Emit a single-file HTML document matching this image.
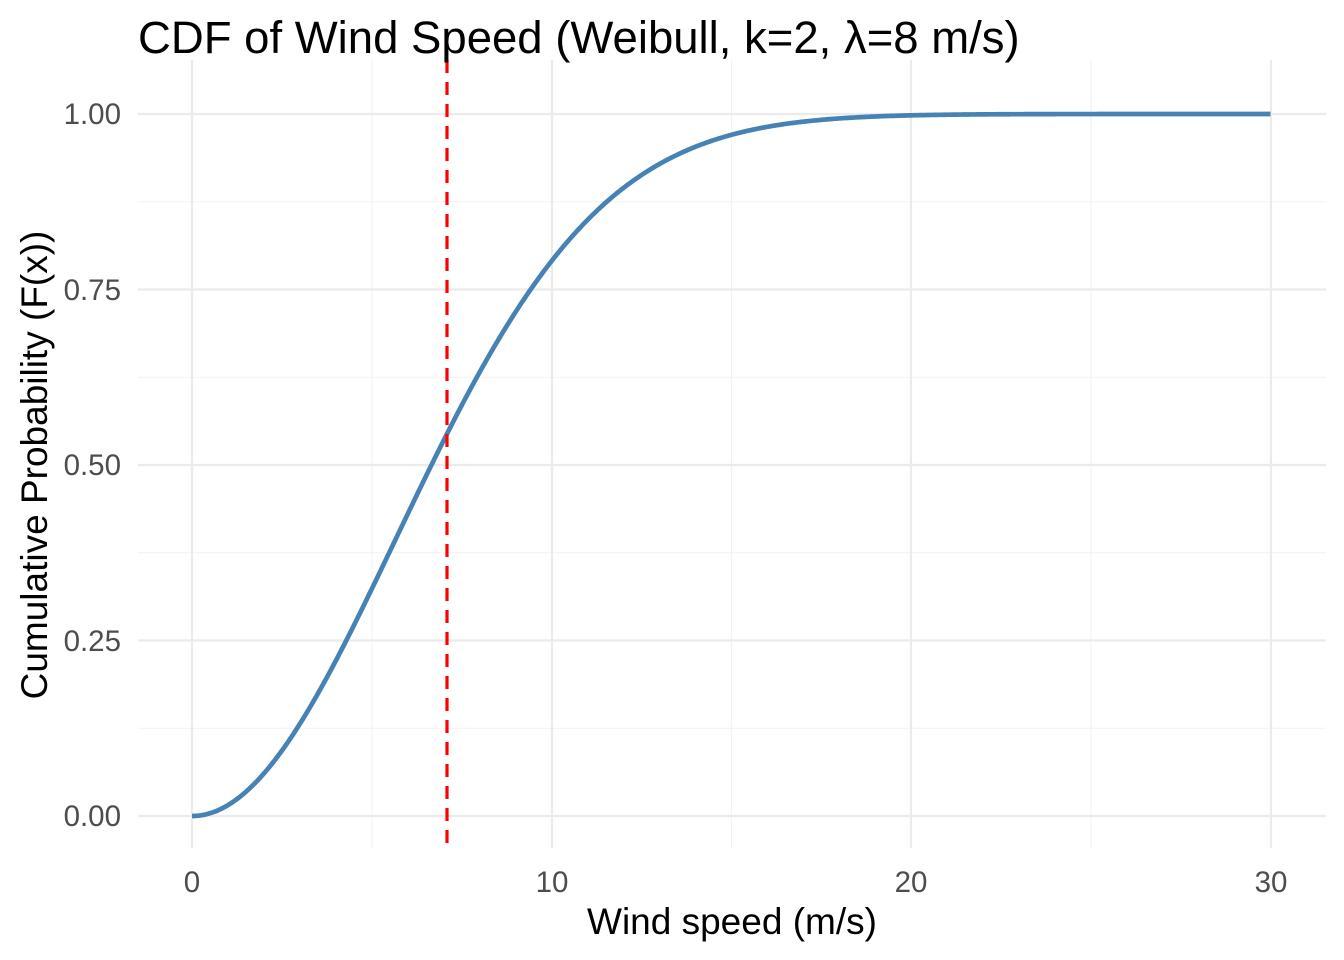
<!DOCTYPE html>
<html><head><meta charset="utf-8"><style>
body{margin:0;background:#fff;}
svg{display:block;font-family:"Liberation Sans",Arial,sans-serif;}
</style></head><body>
<svg id="s" width="1344" height="960" xmlns="http://www.w3.org/2000/svg">
<rect width="1344" height="960" fill="#fff"/>
<g stroke="#f2f2f2" stroke-width="1.1">
<line x1="138" x2="1326" y1="728.25" y2="728.25"/>
<line x1="138" x2="1326" y1="552.75" y2="552.75"/>
<line x1="138" x2="1326" y1="377.25" y2="377.25"/>
<line x1="138" x2="1326" y1="201.75" y2="201.75"/>
<line y1="60" y2="848" x1="372" x2="372"/>
<line y1="60" y2="848" x1="731.5" x2="731.5"/>
<line y1="60" y2="848" x1="1091" x2="1091"/>
</g>
<g stroke="#ebebeb" stroke-width="2.2">
<line x1="138" x2="1326" y1="816" y2="816"/>
<line x1="138" x2="1326" y1="640.5" y2="640.5"/>
<line x1="138" x2="1326" y1="465" y2="465"/>
<line x1="138" x2="1326" y1="289.5" y2="289.5"/>
<line x1="138" x2="1326" y1="114" y2="114"/>
<line y1="60" y2="848" x1="192" x2="192"/>
<line y1="60" y2="848" x1="552" x2="552"/>
<line y1="60" y2="848" x1="911" x2="911"/>
<line y1="60" y2="848" x1="1271" x2="1271"/>
</g>
<path id="c" fill="none" stroke="#4682b4" stroke-width="4.7"/>
<line x1="447" x2="447" y1="60" y2="848" stroke="#ff0000" stroke-width="3.2" stroke-dasharray="13,9"/>
<g fill="#4d4d4d" font-size="29.5" text-anchor="end">
<text x="121" y="826">0.00</text>
<text x="121" y="651">0.25</text>
<text x="121" y="475">0.50</text>
<text x="121" y="300">0.75</text>
<text x="121" y="124">1.00</text>
</g>
<g fill="#4d4d4d" font-size="29.5" text-anchor="middle">
<text x="192" y="892">0</text>
<text x="552" y="892">10</text>
<text x="911" y="892">20</text>
<text x="1271" y="892">30</text>
</g>
<text x="732" y="934" font-size="37" text-anchor="middle" fill="#000">Wind speed (m/s)</text>
<text transform="translate(47,465) rotate(-90)" font-size="37" text-anchor="middle" fill="#000">Cumulative Probability (F(x))</text>
<text x="138" y="53" font-size="45.5" fill="#000">CDF of Wind Speed (Weibull, k=2, λ=8 m/s)</text>
</svg>
<script>
var d="";for(var i=0;i<=600;i++){var x=i*0.05;var F=1-Math.exp(-Math.pow(x/8,2));d+=(i?"L":"M")+(192+x*35.95).toFixed(2)+","+(816-F*702).toFixed(2);}
document.getElementById("c").setAttribute("d",d);
</script>
</body></html>
